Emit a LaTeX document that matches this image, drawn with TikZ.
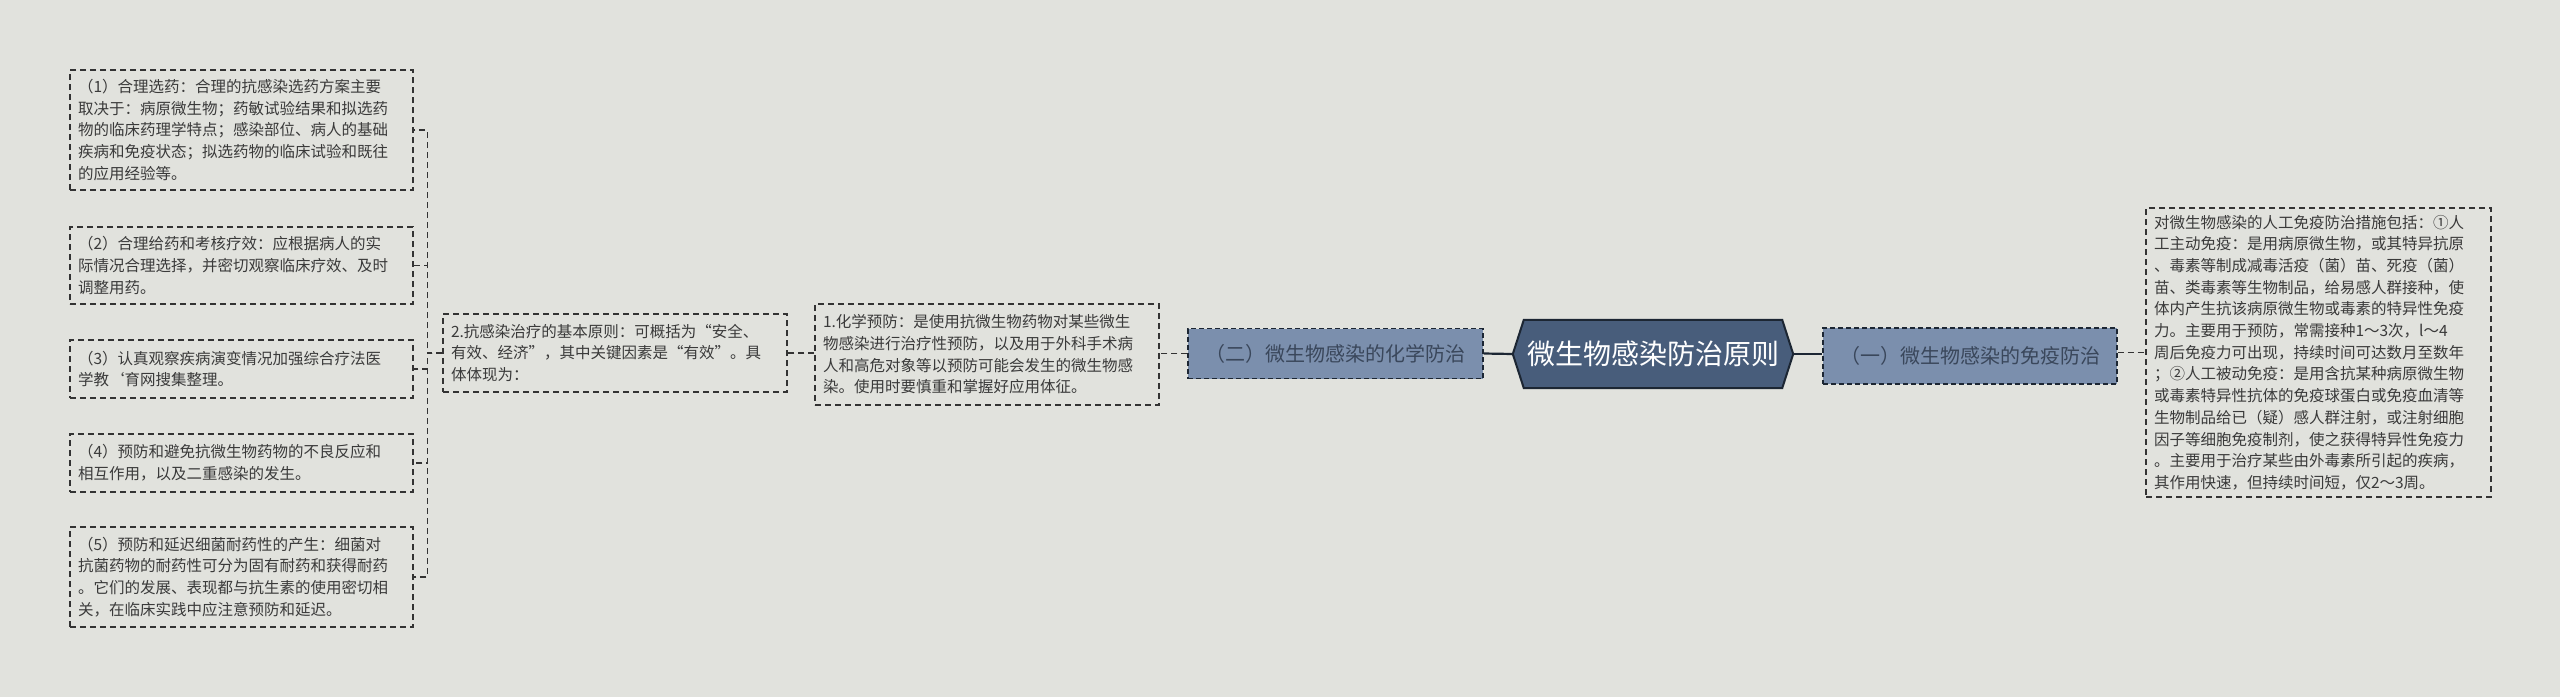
\documentclass[tikz,border=0pt]{standalone}
\usepackage{fontspec}
\setmainfont{Noto Sans CJK SC}
\usetikzlibrary{calc}
\definecolor{bg}{HTML}{E1E2DD}
\definecolor{txt}{HTML}{3A3A3A}
\definecolor{lne}{HTML}{333333}
\definecolor{rootfill}{HTML}{485D7B}
\definecolor{rootline}{HTML}{1C2633}
\definecolor{brfill}{HTML}{7B8FAD}
\definecolor{brtxt}{HTML}{3A475B}
\tikzset{
  leafbox/.style={draw=lne, line width=1.4pt, dash pattern=on 6pt off 4pt, fill=bg,
    text=txt, align=left, inner xsep=8pt, inner ysep=4pt,
    font=\fontsize{15.5pt}{21.7pt}\selectfont},
  branchbox/.style={draw=rootline, line width=1.4pt, dash pattern=on 5pt off 3pt, fill=brfill,
    text=brtxt, align=center, inner sep=0pt, font=\fontsize{20pt}{24pt}\selectfont},
  dashlink/.style={draw=lne, line width=1.4pt, dash pattern=on 6pt off 4pt},
  solidlink/.style={draw=rootline, line width=2.2pt},
}
\begin{document}
\begin{tikzpicture}[x=1pt,y=-1pt]
\fill[bg] (0,0) rectangle (2560,697);
\useasboundingbox (0,0) rectangle (2560,697);

% root
\node[minimum width=280pt, minimum height=68pt, inner sep=0pt] (root) at (1653,354) {};
\fill[rootfill, draw=rootline, line width=2pt]
  (root.west) -- ($(root.north west)+(11,0)$) -- ($(root.north east)+(-11,0)$) -- (root.east)
  -- ($(root.south east)+(-11,0)$) -- ($(root.south west)+(11,0)$) -- cycle;
\node[text=white, font=\fontsize{28pt}{30pt}\selectfont] at (root.center) {微生物感染防治原则};

% branches
\node[branchbox, minimum width=295pt, minimum height=50pt] (er) at (1335.5,353.5) {（二）微生物感染的化学防治};
\node[branchbox, minimum width=294pt, minimum height=56pt] (yi) at (1970,356) {（一）微生物感染的免疫防治};

% right leaf
\node[leafbox, text width=329pt, minimum height=289pt] (rt) at (2318.5,352.5) {%
对微生物感染的人工免疫防治措施包括：①人\\
工主动免疫：是用病原微生物，或其特异抗原\\
、毒素等制成减毒活疫（菌）苗、死疫（菌）\\
苗、类毒素等生物制品，给易感人群接种，使\\
体内产生抗该病原微生物或毒素的特异性免疫\\
力。主要用于预防，常需接种1～3次，l～4\\
周后免疫力可出现，持续时间可达数月至数年\\
；②人工被动免疫：是用含抗某种病原微生物\\
或毒素特异性抗体的免疫球蛋白或免疫血清等\\
生物制品给已（疑）感人群注射，或注射细胞\\
因子等细胞免疫制剂，使之获得特异性免疫力\\
。主要用于治疗某些由外毒素所引起的疾病，\\
其作用快速，但持续时间短，仅2～3周。};

% left side
\node[leafbox, text width=328pt, minimum height=101pt] (one) at (987,354.5) {%
1.化学预防：是使用抗微生物药物对某些微生\\
物感染进行治疗性预防，以及用于外科手术病\\
人和高危对象等以预防可能会发生的微生物感\\
染。使用时要慎重和掌握好应用体征。};

\node[leafbox, text width=328pt, minimum height=78pt] (two) at (615,353) {%
2.抗感染治疗的基本原则：可概括为“安全、\\
有效、经济”，其中关键因素是“有效”。具\\
体体现为：};

\node[leafbox, text width=327pt, minimum height=120pt] (c1) at (241.5,130) {%
（1）合理选药：合理的抗感染选药方案主要\\
取决于：病原微生物；药敏试验结果和拟选药\\
物的临床药理学特点；感染部位、病人的基础\\
疾病和免疫状态；拟选药物的临床试验和既往\\
的应用经验等。};

\node[leafbox, text width=327pt, minimum height=77pt] (c2) at (241.5,265.5) {%
（2）合理给药和考核疗效：应根据病人的实\\
际情况合理选择，并密切观察临床疗效、及时\\
调整用药。};

\node[leafbox, text width=327pt, minimum height=58pt] (c3) at (241.5,369) {%
（3）认真观察疾病演变情况加强综合疗法医\\
学教`育网搜集整理。};

\node[leafbox, text width=327pt, minimum height=58pt] (c4) at (241.5,463) {%
（4）预防和避免抗微生物药物的不良反应和\\
相互作用，以及二重感染的发生。};

\node[leafbox, text width=327pt, minimum height=100pt] (c5) at (241.5,577) {%
（5）预防和延迟细菌耐药性的产生：细菌对\\
抗菌药物的耐药性可分为固有耐药和获得耐药\\
。它们的发展、表现都与抗生素的使用密切相\\
关，在临床实践中应注意预防和延迟。};

% connectors
\draw[solidlink] (root.west) -- (er.east);
\draw[solidlink] (root.east) -- (yi.west |- root.east);
\draw[dashlink] (yi.east |- rt.west) -- (rt.west);
\draw[dashlink] (er.west) -- (one.east |- er.west);
\draw[dashlink] (one.west |- two.east) -- (two.east);
\coordinate (bk) at ($(two.west)+(-15,0)$);
\foreach \c in {c1,c2,c3,c4,c5} {
  \draw[dashlink] (two.west) -- (bk) |- (\c.east);
}
\end{tikzpicture}
\end{document}
